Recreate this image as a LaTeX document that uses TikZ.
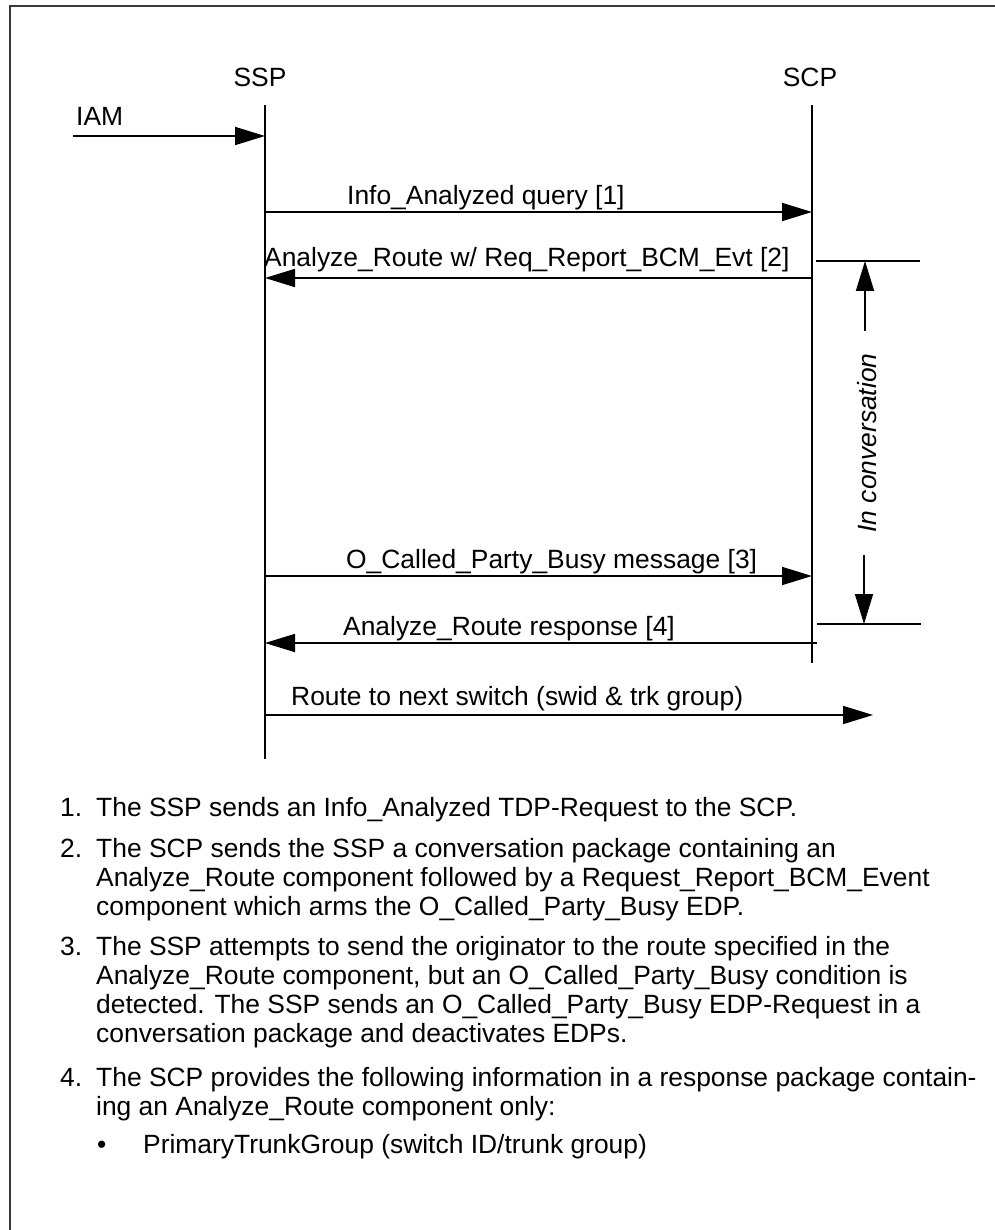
\documentclass[tikz,border=0pt]{standalone}
\usepackage{fontspec}
\setmainfont{Liberation Sans}
\usetikzlibrary{arrows.meta}
\begin{document}
\begin{tikzpicture}[x=1pt,y=-1pt,
  every node/.style={inner sep=0pt, font=\fontsize{26.4}{29}\selectfont},
  txt/.style={anchor=base west},
  head/.style={anchor=base},
  life/.style={line width=1.8pt},
  msg/.style={line width=1.8pt, -{Triangle[length=30pt,width=18pt]}},
  frameline/.style={line width=2pt, draw=black!78}]
\useasboundingbox (0,0) rectangle (994,1230);

% page frame
\draw[frameline] (10,1232) -- (10,6) -- (996,6);

% lifelines
\node[head] (ssp) at (260,87) {SSP};
\node[head] (scp) at (810,87) {SCP};
\coordinate (sspA) at (265,105);
\coordinate (sspB) at (265,759);
\coordinate (scpA) at (812,105);
\coordinate (scpB) at (812,663);
\draw[life] (sspA) -- (sspB);
\draw[life] (scpA) -- (scpB);

% incoming IAM
\coordinate (iamS) at (73,136);
\coordinate (iamE) at (265,136);
\draw[msg] (iamS) -- (iamE);
\node[txt] (iam) at (76,126) {IAM};

% [1] query
\coordinate (m1S) at (265,212);
\coordinate (m1E) at (812,212);
\draw[msg] (m1S) -- (m1E);
\node[txt] (m1) at (347,205) {Info\_Analyzed query [1]};

% [2] Analyze_Route with event request
\coordinate (m2S) at (812,278);
\coordinate (m2E) at (265,278);
\draw[msg] (m2S) -- (m2E);
\node[txt] (m2) at (264,267) {Analyze\_Route w/ Req\_Report\_BCM\_Evt [2]};

% [3] busy event
\coordinate (m3S) at (265,576);
\coordinate (m3E) at (812,576);
\draw[msg] (m3S) -- (m3E);
\node[txt] (m3) at (346,568) {O\_Called\_Party\_Busy message [3]};

% [4] response
\coordinate (m4S) at (817,643);
\coordinate (m4E) at (265,643);
\draw[msg] (m4S) -- (m4E);
\node[txt] (m4) at (343,635) {Analyze\_Route response [4]};

% outgoing route
\coordinate (m5S) at (265,715);
\coordinate (m5E) at (873,715);
\draw[msg] (m5S) -- (m5E);
\node[txt] (m5) at (291,705) {Route to next switch (swid \& trk group)};

% conversation bracket
\coordinate (bt1) at (816,261);
\coordinate (bt2) at (920,261);
\coordinate (bb1) at (817,624);
\coordinate (bb2) at (921,624);
\draw[life] (bt1) -- (bt2);
\draw[life] (bb1) -- (bb2);
\node[rotate=90, font=\fontsize{26.4}{29}\selectfont\itshape] (conv) at (867,443) {In conversation};
\coordinate (upS) at (865,331);
\coordinate (upE) at (865,261);
\coordinate (dnS) at (864,555);
\coordinate (dnE) at (864,624);
\draw[msg] (upS) -- (upE);
\draw[msg] (dnS) -- (dnE);

% numbered notes
\node[txt] (n1) at (60,816) {1.};
\node[txt] (l1a) at (96,816) {The SSP sends an Info\_Analyzed TDP-Request to the SCP.};

\node[txt] (n2) at (60,857) {2.};
\node[txt] (l2a) at (96,857) {The SCP sends the SSP a conversation package containing an};
\node[txt] (l2b) at (96,886) {Analyze\_Route component followed by a Request\_Report\_BCM\_Event};
\node[txt] (l2c) at (96,915) {component which arms the O\_Called\_Party\_Busy EDP.};

\node[txt] (n3) at (60,955) {3.};
\node[txt] (l3a) at (96,955) {The SSP attempts to send the originator to the route specified in the};
\node[txt] (l3b) at (96,984) {Analyze\_Route component, but an O\_Called\_Party\_Busy condition is};
\node[txt] (l3c) at (96,1013) {detected. The SSP sends an O\_Called\_Party\_Busy EDP-Request in a};
\node[txt] (l3d) at (96,1042) {conversation package and deactivates EDPs.};

\node[txt] (n4) at (60,1086) {4.};
\node[txt] (l4a) at (96,1086) {The SCP provides the following information in a response package contain-};
\node[txt] (l4b) at (96,1115) {ing an Analyze\_Route component only:};

\node[txt] (b1) at (97,1153) {\textbullet};
\node[txt] (l5a) at (143,1153) {PrimaryTrunkGroup (switch ID/trunk group)};
\end{tikzpicture}
\end{document}
